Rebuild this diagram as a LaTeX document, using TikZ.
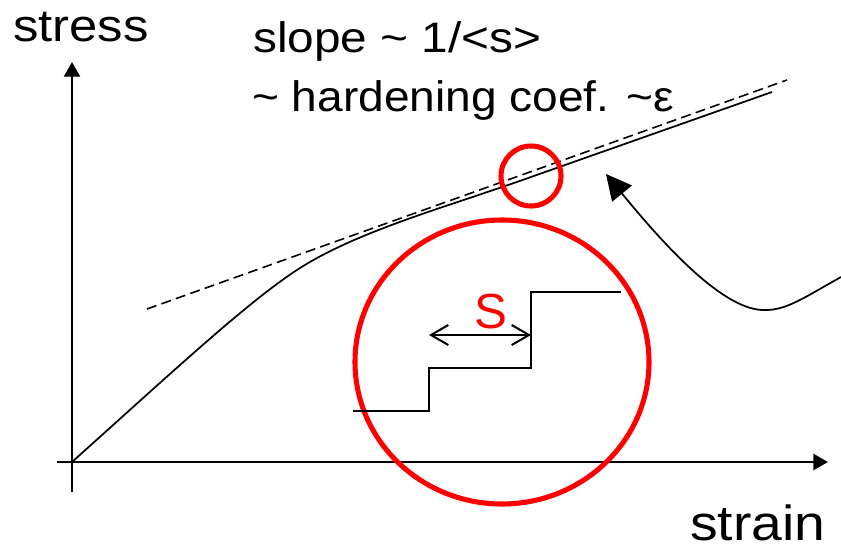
\documentclass[tikz,border=0pt]{standalone}
\usepackage{fontspec}
\setmainfont{Liberation Sans}
\usetikzlibrary{arrows.meta}

\newcommand{\widetext}[2][1.12]{\scalebox{#1}[1]{#2}}

\begin{document}
\begin{tikzpicture}[
  x=0.75pt, y=-0.75pt,
  axis/.style={line width=1.7pt, -{Triangle[length=11pt, width=12pt]}},
  curve/.style={line width=1.3pt},
  tangent/.style={line width=1.2pt, dash pattern=on 7.5pt off 4pt},
  redring/.style={red, line width=3.8pt},
  stair/.style={line width=1.6pt},
  spacing/.style={line width=1.5pt, {Straight Barb[length=13pt, width=15pt]}-{Straight Barb[length=13pt, width=15pt]}},
  pointer/.style={line width=1.3pt, -{Triangle[length=19pt, width=19pt]}},
  lbl/.style={anchor=base west, inner sep=0pt, text depth=0pt}
]
\useasboundingbox (0,0) rectangle (841,549);

% ---------- Axes ----------
\coordinate (O)    at (72,462);
\coordinate (Ybot) at (72,492);
\coordinate (Ytop) at (72,62);
\coordinate (Xl)   at (57,462);
\coordinate (Xr)   at (828,462);
\draw[axis] (Ybot) -- (Ytop);
\draw[axis] (Xl) -- (Xr);
\node[lbl, font=\fontsize{34}{40}\selectfont] (stress) at (13,42)  {\widetext{stress}};
\node[lbl, font=\fontsize{37}{44}\selectfont] (strain) at (690,540) {\widetext[1.12]{strain}};

% ---------- Curve and tangent ----------
\coordinate (knee)  at (300,268);
\coordinate (touch) at (531,177);
\coordinate (cend)  at (772,92);
\coordinate (tA)    at (147,309);
\coordinate (tB)    at (787,80);
\draw[curve] (O) .. controls (180,365) and (250,300) .. (knee)
  .. controls (360,230) and (450,206) .. (touch) -- (cend);
\draw[tangent] (tA) -- (tB);

\node[lbl, font=\fontsize{32}{38}\selectfont] (slope) at (253,53)  {\widetext{slope \textasciitilde{} 1/<s>}};
\node[lbl, font=\fontsize{32}{38}\selectfont] (coef)  at (252,112) {\widetext[1.08]{\textasciitilde{} hardening coef. \textasciitilde ε}};

% ---------- Red rings ----------
\coordinate (spot) at (531,176);
\coordinate (zoom) at (502,362);
\draw[redring] (spot) circle[radius=30];
\draw[redring] (zoom) ellipse[x radius=147, y radius=142];

% ---------- Steps ----------
\coordinate (s1) at (353,411);
\coordinate (s2) at (429,368);
\coordinate (s3) at (531,292);
\coordinate (s4) at (621,292);
\draw[stair] (s1) -| (s2) -| (s3) -- (s4);
\coordinate (wL) at (429,335);
\coordinate (wR) at (531,335);
\draw[spacing] (wL) -- (wR);
\node[red, font=\fontsize{37}{44}\selectfont] (S) at (491,312) {S};

% ---------- Pointer ----------
\coordinate (pstart) at (841,277);
\coordinate (pmin)   at (762,310);
\coordinate (ptip)   at (606,174);
\draw[pointer] (pstart) .. controls (800,300) and (785,311) .. (pmin)
  .. controls (720,308) and (660,240) .. (ptip);

\end{tikzpicture}
\end{document}
